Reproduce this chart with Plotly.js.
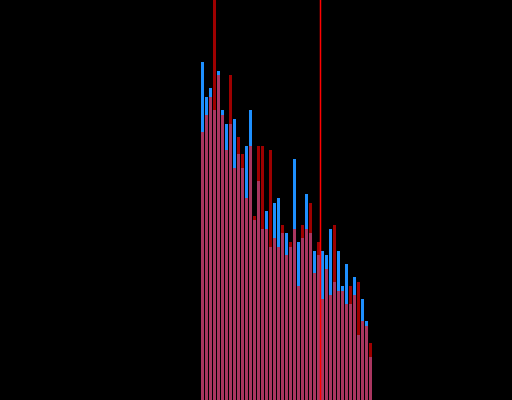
<!DOCTYPE html>
<html>
<head>
<meta charset="utf-8">
<script src="https://cdn.plot.ly/plotly-3.0.1.min.js"></script>
<style>html,body{margin:0;padding:0;background:#000;}#chart{width:512px;height:400px;}</style>
</head>
<body>
<div id="chart"></div>
<script>
const bins = [0,1,2,3,4,5,6,7,8,9,10,11,12,13,14,15,16,17,18,19,20,21,22,23,24,25,26,27,28,29,30,31,32,33,34,35,36,37,38,39,40,41,42];
const blueCounts = [338,303,312,290,329,290,276,276,281,246,232,254,290,180,219,171,189,153,197,202,167,167,153,241,158,162,206,167,149,145,149,145,171,118,149,114,136,96,123,65,101,79,43];
const redCounts  = [268,285,303,450,325,285,250,325,232,263,246,202,254,184,254,254,171,250,162,153,175,145,158,171,114,175,171,197,127,158,101,131,105,175,109,109,96,114,105,118,79,74,57];
const markerX = [29.5];

const traces = [
  {type:'bar', x:bins, y:blueCounts, marker:{color:'#1e90ff', line:{width:0}}, opacity:1, hoverinfo:'skip'},
  {type:'bar', x:bins, y:redCounts, marker:{color:'#ff0000', line:{width:0}}, opacity:0.62, hoverinfo:'skip'}
];
const layout = {
  width:512, height:400,
  margin:{l:0,r:0,t:0,b:0,pad:0},
  paper_bgcolor:'#000', plot_bgcolor:'#000',
  barmode:'overlay', bargap:0.25,
  showlegend:false,
  xaxis:{range:[-50.625,77.375], visible:false, showgrid:false, zeroline:false},
  yaxis:{range:[0,400], visible:false, showgrid:false, zeroline:false},
  shapes: markerX.map(v => ({type:'line', xref:'x', yref:'paper', x0:v, x1:v, y0:0, y1:1, line:{color:'#ff0000', width:1.5}}))
};
Plotly.newPlot('chart', traces, layout, {staticPlot:true, displayModeBar:false});
</script>
</body>
</html>
